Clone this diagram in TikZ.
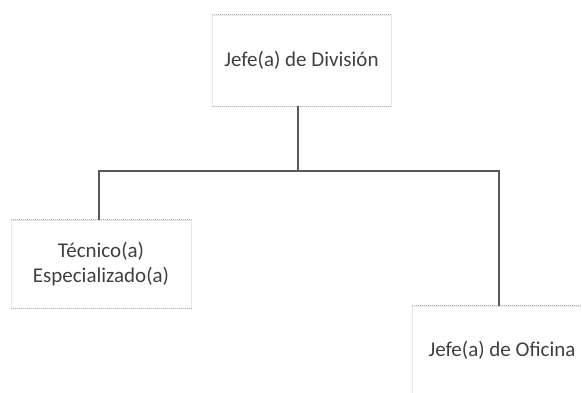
\documentclass[tikz,border=0pt]{standalone}
\usepackage{fontspec}
\setmainfont{Carlito}
\usepackage{tikz}
\usetikzlibrary{positioning}

\tikzset{
  puesto/.style={draw=gray!18, line width=0.6pt, align=center, text=black!75,
    font=\fontsize{21}{25.5}\selectfont, inner sep=0pt},
  borde/.style={gray!60, line width=0.8pt, dash pattern=on 1.5pt off 0.5pt},
  linea/.style={black!65, line width=1.2pt}
}

\begin{document}
\begin{tikzpicture}[x=1pt,y=-1pt]
    \useasboundingbox (0,0) rectangle (582,392);
    \clip (0,0) rectangle (582,392);
    \node[puesto, minimum width=179pt, minimum height=91pt] (division) at (301.5,60.5) {Jefe(a) de División};
    \node[puesto, minimum width=180pt, minimum height=88pt] (tecnico) at (101,264) {Técnico(a)\\Especializado(a)};
    \node[puesto, minimum width=180pt, minimum height=88pt] (oficina) at (502,350) {Jefe(a) de Oficina};
    % bordes superior e inferior
    \foreach \n in {division,tecnico,oficina} {
      \draw[borde] (\n.north west) -- (\n.north east);
      \draw[borde] (\n.south west) -- (\n.south east);
    }
    \coordinate (barra) at (298,171);
    \draw[linea] (division.south -| barra) -- (barra);
    \draw[linea] (barra) -| ([xshift=-2pt]tecnico.north);
    \draw[linea] (barra) -| ([xshift=-3pt]oficina.north);
  \end{tikzpicture}
\end{document}
